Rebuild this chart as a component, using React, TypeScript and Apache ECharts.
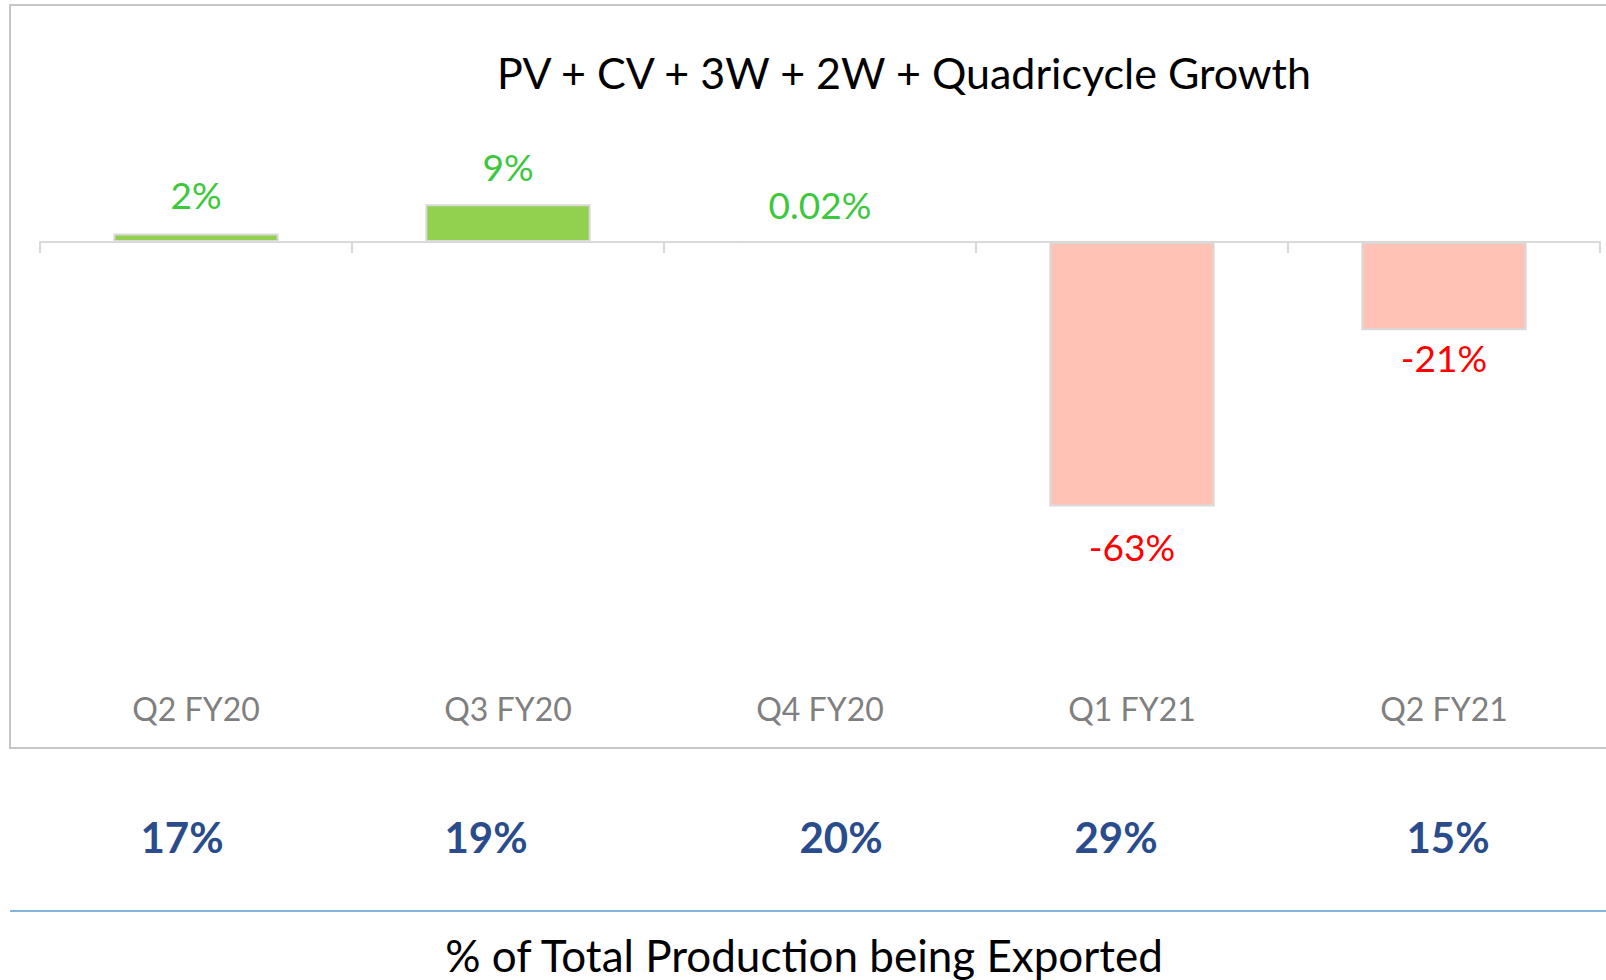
import React, { useEffect, useRef } from "react";
import * as echarts from "echarts";

const categories = ["Q2 FY20", "Q3 FY20", "Q4 FY20", "Q1 FY21", "Q2 FY21"];
const growthValues = [2, 9, 0.02, -63, -21];
const growthLabels = ["2%", "9%", "0.02%", "-63%", "-21%"];
const exportShare = ["17%", "19%", "20%", "29%", "15%"];
const chartTitle = "PV + CV + 3W + 2W + Quadricycle Growth";
const footerTitle = "% of Total Production being Exported";

// layout-only helpers (text placement, label gaps)
const exportLabelX = [182, 486, 841, 1116, 1448];
const labelGap = [19, 18, 16, 20, 7];

const FONT = "Lato, 'Open Sans', sans-serif";

export default function App() {
  const ref = useRef<HTMLDivElement>(null);
  useEffect(() => {
    if (!ref.current) return;
    const chart = echarts.init(ref.current, undefined, { renderer: "svg" });
    const data = growthValues.map((v, i) => {
      const pos = v >= 0;
      return {
        value: v,
        itemStyle: {
          color: pos ? "#92d050" : "#ffc2b5",
          borderColor: "#d9d9d9",
          borderWidth: 2,
        },
        label: {
          show: true,
          position: pos ? "top" : "bottom",
          distance: labelGap[i],
          formatter: growthLabels[i],
          color: pos ? "#3cc83c" : "#ff0000",
          fontSize: 37,
          fontFamily: FONT,
          lineHeight: 40,
        },
      };
    });
    const exportTexts = exportShare.map((t, i) => ({
      type: "text",
      x: exportLabelX[i],
      y: 837,
      style: {
        text: t,
        fill: "#2b4c8c",
        font: `bold 42px ${FONT}`,
        textAlign: "center",
        textVerticalAlign: "middle",
      },
    }));
    chart.setOption({
      animation: false,
      grid: { left: 40, right: 6, top: 74, bottom: 318, containLabel: false },
      xAxis: [
        {
          type: "category",
          data: categories,
          axisLine: { show: true, onZero: true, lineStyle: { color: "#d9d9d9", width: 2 } },
          axisTick: { show: true, length: 11, lineStyle: { color: "#d9d9d9", width: 2 } },
          axisLabel: { show: false },
        },
        {
          type: "category",
          data: categories,
          position: "bottom",
          axisLine: { show: false, onZero: false },
          axisTick: { show: false },
          axisLabel: { show: true, color: "#7f7f7f", fontSize: 32, fontFamily: FONT, margin: 30 },
        },
      ],
      yAxis: {
        type: "value",
        min: -100,
        max: 40,
        show: false,
        splitLine: { show: false },
      },
      series: [
        {
          type: "bar",
          xAxisIndex: 0,
          data,
          barWidth: "53%",
        },
      ],
      graphic: [
        {
          type: "rect",
          shape: { x: 10, y: 5, width: 1620, height: 743 },
          style: { fill: "none", stroke: "#c6c6c6", lineWidth: 2 },
          silent: true,
        },
        {
          type: "line",
          shape: { x1: 10, y1: 911, x2: 1606, y2: 911 },
          style: { stroke: "#5b9bd5", lineWidth: 1.5 },
          silent: true,
        },
        {
          type: "text",
          x: 904,
          y: 72,
          style: {
            text: chartTitle,
            fill: "#000000",
            font: `43px ${FONT}`,
            textAlign: "center",
            textVerticalAlign: "middle",
          },
        },
        {
          type: "text",
          x: 804,
          y: 955,
          style: {
            text: footerTitle,
            fill: "#000000",
            font: `44px ${FONT}`,
            textAlign: "center",
            textVerticalAlign: "middle",
          },
        },
        ...exportTexts,
      ],
    });
    return () => chart.dispose();
  }, []);
  return (
    <div
      ref={ref}
      style={{ position: "absolute", left: 0, top: 0, width: 1606, height: 980, background: "#ffffff" }}
    />
  );
}
